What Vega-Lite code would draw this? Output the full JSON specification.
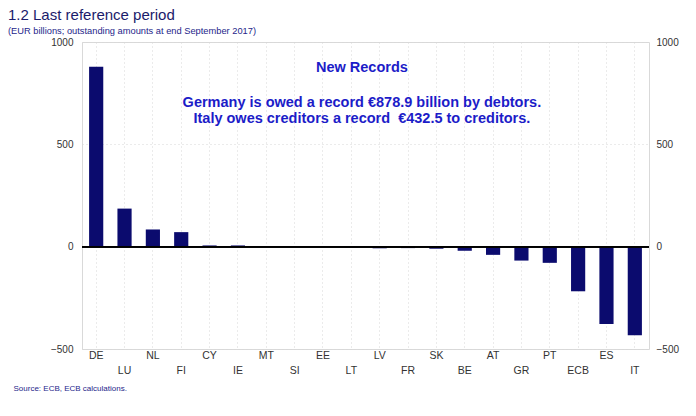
{
  "$schema": "https://vega.github.io/schema/vega-lite/v6.json",
  "width": 567,
  "height": 307,
  "autosize": {"type": "none"},
  "padding": {"left": 82, "top": 42, "right": 47, "bottom": 67},
  "background": "white",
  "config": {
    "font": "Liberation Sans",
    "view": {"stroke": "#d9d9d9", "strokeWidth": 1}
  },
  "title": {
    "text": "1.2 Last reference period",
    "subtitle": "(EUR billions; outstanding amounts at end September 2017)",
    "anchor": "start",
    "frame": "group",
    "dx": -74,
    "offset": 1,
    "font": "Liberation Sans",
    "fontSize": 15,
    "fontWeight": "normal",
    "color": "#1b1b6b",
    "subtitleFont": "Liberation Sans",
    "subtitleFontSize": 9.3,
    "subtitleColor": "#25258a",
    "subtitlePadding": 4
  },
  "data": {
    "values": [
      {"c": "DE", "v": 878.9},
      {"c": "LU", "v": 186},
      {"c": "NL", "v": 84},
      {"c": "FI", "v": 71},
      {"c": "CY", "v": 6},
      {"c": "IE", "v": 6},
      {"c": "MT", "v": 3},
      {"c": "SI", "v": 0.5},
      {"c": "EE", "v": 0.3},
      {"c": "LT", "v": -3},
      {"c": "LV", "v": -8},
      {"c": "FR", "v": -7},
      {"c": "SK", "v": -10},
      {"c": "BE", "v": -20},
      {"c": "AT", "v": -40},
      {"c": "GR", "v": -68},
      {"c": "PT", "v": -79},
      {"c": "ECB", "v": -218},
      {"c": "ES", "v": -378},
      {"c": "IT", "v": -432.5}
    ]
  },
  "resolve": {"axis": {"y": "independent"}},
  "layer": [
    {
      "mark": {"type": "bar", "color": "#0b0b6e"},
      "encoding": {
        "x": {
          "field": "c",
          "type": "nominal",
          "sort": null,
          "scale": {
            "domain": ["DE","LU","NL","FI","CY","IE","MT","SI","EE","LT","LV","FR","SK","BE","AT","GR","PT","ECB","ES","IT"],
            "paddingInner": 0.5,
            "paddingOuter": 0.25
          },
          "axis": {
            "title": "Source: ECB, ECB calculations.",
            "titleAnchor": "start",
            "titleAlign": "left",
            "titleBaseline": "middle",
            "titleX": -69,
            "titleY": 39,
            "titleFont": "Liberation Sans",
            "titleFontSize": 8,
            "titleFontWeight": "normal",
            "titleColor": "#25258a",
            "labelAngle": 0,
            "labelExpr": "indexof(['DE','LU','NL','FI','CY','IE','MT','SI','EE','LT','LV','FR','SK','BE','AT','GR','PT','ECB','ES','IT'], datum.value) % 2 == 0 ? datum.value : ['', datum.value]",
            "labelLineHeight": 15,
            "labelFontSize": 10.5,
            "labelColor": "#333333",
            "labelPadding": 1,
            "ticks": false,
            "domain": false,
            "grid": true,
            "bandPosition": 0.5,
            "gridColor": "#d6d6d6",
            "gridDash": [1, 3],
            "labelOverlap": false
          }
        },
        "y": {
          "field": "v",
          "type": "quantitative",
          "scale": {"domain": [-500, 1000], "nice": false},
          "axis": {
            "title": null,
            "orient": "left",
            "values": [-500, 0, 500, 1000],
            "format": "d",
            "ticks": false,
            "domain": false,
            "labelFontSize": 10,
            "labelColor": "#333333",
            "labelPadding": 9,
            "grid": true,
            "gridColor": "#d6d6d6",
            "gridDash": [1, 3]
          }
        }
      }
    },
    {
      "mark": {"type": "rule", "color": "#000000", "strokeWidth": 1},
      "encoding": {
        "y": {
          "datum": 0,
          "type": "quantitative",
          "axis": {
            "title": null,
            "orient": "right",
            "values": [-500, 0, 500, 1000],
            "format": "d",
            "ticks": false,
            "domain": false,
            "grid": false,
            "labelFontSize": 10,
            "labelColor": "#333333",
            "labelPadding": 7
          }
        }
      }
    },
    {
      "data": {
        "values": [
          {"c": "LT", "v": 873, "t": "New Records"},
          {"c": "LT", "v": 702, "t": "Germany is owed a record €878.9 billion by debtors."},
          {"c": "LT", "v": 624, "t": "Italy owes creditors a record \u00a0€432.5 to creditors."}
        ]
      },
      "mark": {
        "type": "text",
        "font": "Liberation Sans",
        "fontSize": 14.5,
        "fontWeight": "bold",
        "color": "#1c1cc8",
        "align": "center",
        "baseline": "middle",
        "dx": 3.5
      },
      "encoding": {
        "x": {"field": "c", "type": "nominal", "sort": null, "bandPosition": 1},
        "y": {"field": "v", "type": "quantitative", "axis": null},
        "text": {"field": "t"}
      }
    }
  ]
}
